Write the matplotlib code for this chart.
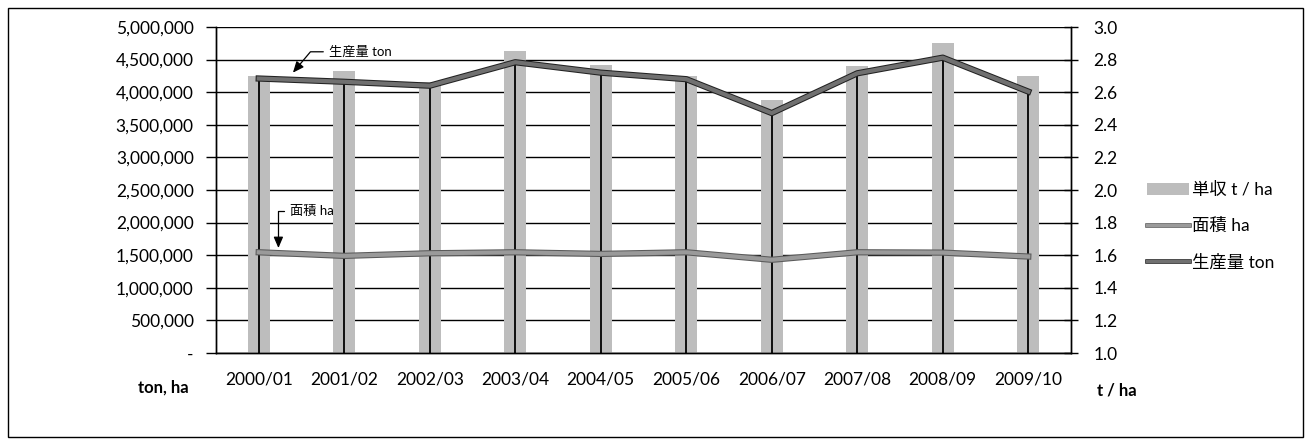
import matplotlib
matplotlib.use('Agg')
import matplotlib.pyplot as plt
import matplotlib.patheffects as pe
from matplotlib.patches import Rectangle, Patch
from matplotlib.lines import Line2D
import numpy as np

plt.rcParams['font.family'] = ['Lato', 'Noto Sans CJK JP', 'DejaVu Sans']

# データ
years = ['2000/01', '2001/02', '2002/03', '2003/04', '2004/05',
         '2005/06', '2006/07', '2007/08', '2008/09', '2009/10']
production = [4210000, 4160000, 4100000, 4460000, 4300000,
              4200000, 3680000, 4290000, 4530000, 4010000]   # 生産量 ton
area = [1545000, 1490000, 1530000, 1545000, 1520000,
        1545000, 1430000, 1545000, 1540000, 1480000]         # 面積 ha
yield_t = [2.70, 2.73, 2.665, 2.85, 2.77,
           2.70, 2.55, 2.76, 2.90, 2.70]                     # 単収 t/ha

left_ticks = [0, 500000, 1000000, 1500000, 2000000, 2500000,
              3000000, 3500000, 4000000, 4500000, 5000000]
left_labels = ['-', '500,000', '1,000,000', '1,500,000', '2,000,000', '2,500,000',
               '3,000,000', '3,500,000', '4,000,000', '4,500,000', '5,000,000']
right_ticks = [1.0, 1.2, 1.4, 1.6, 1.8, 2.0, 2.2, 2.4, 2.6, 2.8, 3.0]

fig = plt.figure(figsize=(13.13, 4.45), dpi=100)
ax = fig.add_axes([0.1645, 0.2067, 0.6512, 0.7326])
ax2 = ax.twinx()

x = np.arange(len(years))

# グリッド (棒の後ろ) - 右軸の目盛りは左軸と一致
for t in right_ticks:
    ax2.axhline(t, color='black', lw=1.0, zorder=0)

# 単収 (右軸) の棒
ax2.bar(x, np.array(yield_t) - 1.0, bottom=1.0, width=0.26,
        color='#bdbdbd', edgecolor='none', zorder=1)
ax2.set_ylim(1.0, 3.0)
ax2.set_yticks(right_ticks)
ax2.set_yticklabels([f'{v:.1f}' for v in right_ticks])

# 左軸の線を前面に
ax.set_zorder(ax2.get_zorder() + 1)
ax.patch.set_visible(False)

# ドロップライン
ax.vlines(x, 0, production, colors='black', lw=1.3, zorder=2)

ax.plot(x, area, color='#9a9a9a', lw=3, zorder=3,
        path_effects=[pe.Stroke(linewidth=4.5, foreground='#5a5a5a'), pe.Normal()])
ax.plot(x, production, color='#707070', lw=3, zorder=4,
        path_effects=[pe.Stroke(linewidth=4.5, foreground='#222222'), pe.Normal()])

ax.set_xlim(-0.5, len(years) - 0.5)
ax.set_ylim(0, 5000000)
ax.set_yticks(left_ticks)
ax.set_yticklabels(left_labels)
ax.set_xticks(x)
ax.set_xticklabels(years)

ax.tick_params(axis='y', direction='out', length=7, width=1, labelsize=12.5, pad=9)
ax.tick_params(axis='x', length=0, labelsize=12.5, pad=13)
ax2.tick_params(axis='y', direction='inout', length=10, width=1, labelsize=12.5, pad=11)
for a in (ax, ax2):
    a.spines['top'].set_visible(False)
    for s in ('left', 'right', 'bottom'):
        a.spines[s].set_linewidth(1.0)

# 注記
ax.annotate('生産量 ton', xy=(0.40, 4300000), xytext=(0.82, 4620000),
            fontsize=9.5, va='center', ha='left',
            arrowprops=dict(arrowstyle='-|>,head_length=0.7,head_width=0.3',
                            color='black', lw=0.9,
                            connectionstyle='angle,angleA=0,angleB=50,rad=0',
                            shrinkA=2, shrinkB=0))
ax.annotate('面積 ha', xy=(0.23, 1610000), xytext=(0.36, 2180000),
            fontsize=9.5, va='center', ha='left',
            arrowprops=dict(arrowstyle='-|>,head_length=0.7,head_width=0.3',
                            color='black', lw=0.9,
                            connectionstyle='angle,angleA=0,angleB=90,rad=0',
                            shrinkA=2, shrinkB=0))

fig.text(138 / 1313, 1 - 388 / 445, 'ton, ha', fontsize=12, fontweight='bold',
         ha='left', va='center')
fig.text(1097 / 1313, 1 - 390 / 445, 't / ha', fontsize=12, fontweight='bold',
         ha='left', va='center')

handles = [Patch(facecolor='#bdbdbd', edgecolor='none'),
           Line2D([], [], color='#9a9a9a', lw=2.2,
                  path_effects=[pe.Stroke(linewidth=3.3, foreground='#5a5a5a'), pe.Normal()]),
           Line2D([], [], color='#707070', lw=2.2,
                  path_effects=[pe.Stroke(linewidth=3.3, foreground='#222222'), pe.Normal()])]
fig.legend(handles, ['単収 t / ha', '面積 ha', '生産量 ton'], loc='center left',
           bbox_to_anchor=(0.862, 0.492), frameon=False, fontsize=12.5,
           handlelength=2.4, handletextpad=0.15, labelspacing=1.15)

fig.patches.append(Rectangle((8 / 1313, 8 / 445), 1295 / 1313, 429 / 445,
                             transform=fig.transFigure, fill=False,
                             edgecolor='black', lw=1.0))

fig.savefig('out.png', dpi=100)
